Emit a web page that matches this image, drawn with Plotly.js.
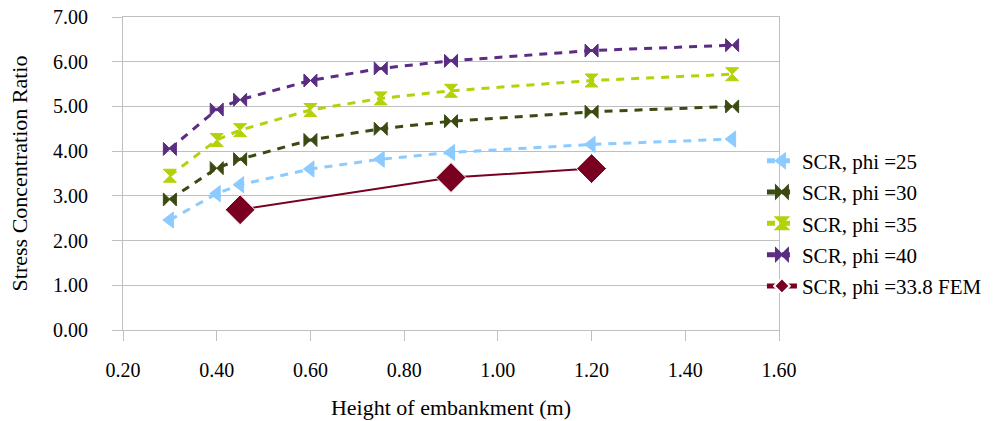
<!DOCTYPE html>
<html>
<head>
<meta charset="utf-8">
<script src="https://cdn.plot.ly/plotly-3.0.1.min.js"></script>
<style>html,body{margin:0;padding:0;background:#fff;}#chart{width:1000px;height:421px;}</style>
</head>
<body>
<div id="chart"></div>
<script>
const heights = [0.30, 0.40, 0.45, 0.60, 0.75, 0.90, 1.20, 1.50];
const scrPhi25 = [2.46, 3.05, 3.25, 3.60, 3.82, 3.97, 4.15, 4.27];
const scrPhi30 = [2.92, 3.62, 3.82, 4.25, 4.50, 4.67, 4.88, 5.00];
const scrPhi35 = [3.45, 4.25, 4.47, 4.92, 5.18, 5.35, 5.58, 5.72];
const scrPhi40 = [4.05, 4.93, 5.15, 5.58, 5.85, 6.02, 6.25, 6.37];
const femHeights = [0.45, 0.90, 1.20];
const scrFem = [2.69, 3.41, 3.61];
const seriesNames = ["SCR, phi =25", "SCR, phi =30", "SCR, phi =35", "SCR, phi =40", "SCR, phi =33.8 FEM"];
const xTickVals = [0.2, 0.4, 0.6, 0.8, 1.0, 1.2, 1.4, 1.6];
const yTickVals = [0, 1, 2, 3, 4, 5, 6, 7];

const dashed = "8px,7px";
function series(x, y, name, color, symbol, size, group) {
  return {
    x: x, y: y, name: name, type: "scatter", mode: "lines+markers",
    legendgroup: group,
    line: {color: color, width: 3, dash: dashed},
    marker: {color: color, symbol: symbol, size: size, line: {color: color, width: 1}}
  };
}
const traces = [
  series(heights, scrPhi25, seriesNames[0], "#8ccbff", "triangle-left", 14, "a"),
  series(heights, scrPhi30, seriesNames[1], "#3b4a12", "bowtie", 13, "b"),
  series(heights, scrPhi35, seriesNames[2], "#b5d10a", "hourglass", 13, "c"),
  series(heights, scrPhi40, seriesNames[3], "#5a2d82", "bowtie", 13, "d"),
  {
    x: femHeights, y: scrFem, name: seriesNames[4], type: "scatter", mode: "lines+markers",
    legendgroup: "e",
    line: {color: "#7a0022", width: 2},
    marker: {color: "#7a0022", symbol: "diamond", size: 23, line: {color: "#ffffff", width: 1}}
  }
];

const fontFam = "'Liberation Serif', 'Times New Roman', serif";
const layout = {
  width: 1000, height: 421,
  margin: {l: 123, r: 221, t: 17, b: 91},
  paper_bgcolor: "#ffffff", plot_bgcolor: "#ffffff",
  font: {family: fontFam, size: 20, color: "#000000"},
  showlegend: true,
  legend: {
    x: 0.974, xanchor: "left", y: 0.34, yanchor: "middle",
    traceorder: "grouped", tracegroupgap: 1, itemsizing: "constant",
    font: {family: fontFam, size: 21, color: "#000000"},
    bgcolor: "rgba(0,0,0,0)"
  },
  xaxis: {
    range: [0.2, 1.6], tickvals: xTickVals,
    ticktext: xTickVals.map(v => v.toFixed(2)),
    showgrid: false, zeroline: false,
    showline: true, linecolor: "#bfbfbf", linewidth: 1, mirror: true,
    ticks: "outside", ticklen: 10, tickcolor: "#bfbfbf", ticklabelstandoff: 12,
    tickfont: {family: fontFam, size: 20},
    title: {text: "Height of embankment (m)", font: {family: fontFam, size: 22}, standoff: 19}
  },
  yaxis: {
    range: [0, 7], tickvals: yTickVals,
    ticktext: yTickVals.map(v => v.toFixed(2)),
    showgrid: true, gridcolor: "#bfbfbf", gridwidth: 1, zeroline: false,
    showline: true, linecolor: "#bfbfbf", linewidth: 1, mirror: true,
    ticks: "outside", ticklen: 10, tickcolor: "#bfbfbf", ticklabelstandoff: 20,
    tickfont: {family: fontFam, size: 20},
    title: {text: "Stress Concentration Ratio", font: {family: fontFam, size: 22}, standoff: 19}
  }
};
Plotly.newPlot("chart", traces, layout, {displayModeBar: false, staticPlot: true});
</script>
</body>
</html>
